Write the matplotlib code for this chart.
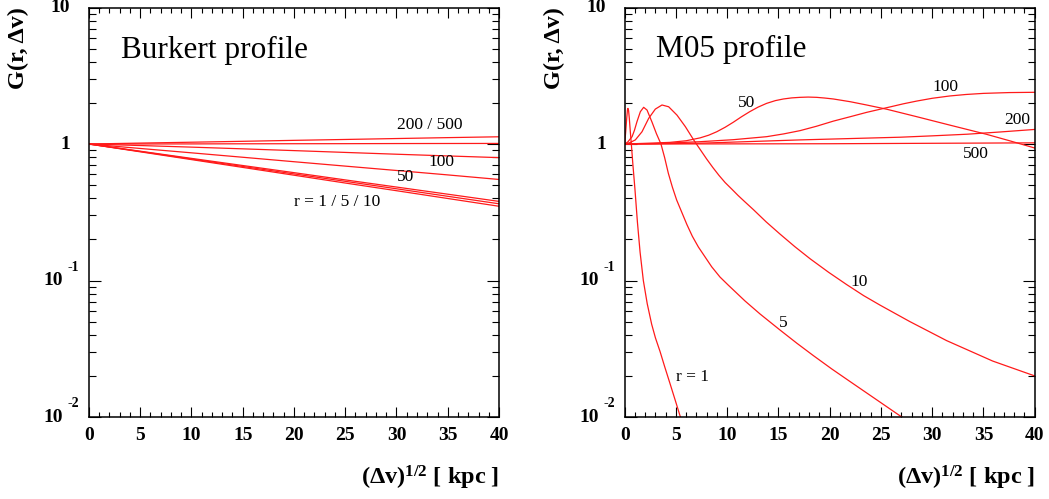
import matplotlib
matplotlib.use('Agg')
import matplotlib.pyplot as plt
import matplotlib.transforms as mtransforms
from matplotlib.ticker import MultipleLocator, LogLocator, FixedLocator, NullFormatter

plt.rcParams['font.family'] = ['Liberation Serif', 'DejaVu Serif']
plt.rcParams['mathtext.fontset'] = 'custom'
plt.rcParams['mathtext.rm'] = 'Liberation Serif'
plt.rcParams['mathtext.bf'] = 'Liberation Serif:bold'
plt.rcParams['mathtext.it'] = 'Liberation Serif:italic'

# ---- Burkert profile (left) ----
bur_x = [0, 5, 10, 15, 20, 25, 30, 35, 40]
bur_r1 = [1.0, 0.877, 0.769, 0.674, 0.591, 0.518, 0.455, 0.399, 0.350]
bur_r5 = [1.0, 0.882, 0.777, 0.685, 0.604, 0.533, 0.470, 0.414, 0.365]
bur_r10 = [1.0, 0.886, 0.785, 0.696, 0.617, 0.546, 0.484, 0.429, 0.380]
bur_r50 = [1.0, 0.928, 0.862, 0.800, 0.742, 0.689, 0.640, 0.594, 0.550]
bur_r100 = [1.0, 0.975, 0.949, 0.922, 0.895, 0.868, 0.842, 0.818, 0.795]
bur_r200 = [1.0, 1.001, 1.002, 1.004, 1.005, 1.006, 1.008, 1.009, 1.010]
bur_r500 = [1.0, 1.016, 1.031, 1.047, 1.064, 1.080, 1.097, 1.114, 1.130]

# ---- M05 profile (right) ----
m05_x1 = [0, 0.1, 0.2, 0.27, 0.32, 0.38, 0.45, 0.55, 0.65, 0.8, 1.0, 1.24,
          1.5, 1.82, 2.2, 2.63, 3.0, 3.45, 3.9, 4.4, 4.9, 5.4, 5.7]
m05_r1 = [1.0, 1.23, 1.55, 1.778, 1.824, 1.758, 1.55, 1.23, 1.0, 0.708, 0.468,
          0.269, 0.162, 0.100, 0.0676, 0.0479, 0.0380, 0.0302, 0.0234, 0.0178,
          0.0135, 0.0102, 0.0087]

m05_x5 = [0, 0.3, 0.72, 0.95, 1.2, 1.53, 1.85, 2.18, 2.67, 3.1, 3.54, 3.9,
          4.26, 4.65, 5.07, 6.07, 6.6, 7.19, 8.49, 9.3, 10.12, 11.74, 13.2,
          15.15, 16.8, 18.4, 20.2, 21.98, 24.5, 26.86, 27.5]
m05_r5 = [1.0, 1.035, 1.132, 1.259, 1.459, 1.726, 1.858, 1.774, 1.445, 1.189,
          1.0, 0.794, 0.610, 0.484, 0.389, 0.257, 0.211, 0.176, 0.126, 0.106,
          0.0923, 0.0708, 0.0569, 0.0434, 0.0347, 0.0282, 0.0225, 0.0182,
          0.0135, 0.0102, 0.00955]

m05_x10 = [0, 0.5, 1.04, 1.69, 2.34, 2.99, 3.64, 4.29, 5.1, 5.92, 6.73, 7.0,
           7.5, 8.0, 8.6, 9.2, 9.8, 10.44, 11.06, 11.68, 12.55, 13.8, 15.15,
           16.6, 18.08, 19.9, 21.66, 23.3, 24.9, 27.8, 31.4, 35.9, 40]
m05_r10 = [1.0, 1.023, 1.072, 1.230, 1.542, 1.803, 1.932, 1.875, 1.629, 1.340,
           1.072, 1.0, 0.881, 0.776, 0.673, 0.589, 0.522, 0.468, 0.420, 0.380,
           0.331, 0.269, 0.219, 0.177, 0.1445, 0.1148, 0.0933, 0.0776, 0.0661,
           0.0501, 0.0363, 0.0257, 0.0200]

m05_x50 = [0, 2, 4.4, 6, 7.35, 8.2, 8.98, 9.8, 10.6, 11.4, 12.2, 13.0, 13.85,
           14.7, 15.48, 16.3, 17.1, 17.9, 18.73, 19.5, 20.36, 22.0, 23.6,
           25.56, 28.5, 31.7, 35.3, 37.5, 40]
m05_r50 = [1.0, 1.012, 1.028, 1.057, 1.109, 1.161, 1.230, 1.327, 1.445, 1.585,
           1.726, 1.862, 1.986, 2.080, 2.138, 2.178, 2.198, 2.208, 2.198, 2.173,
           2.138, 2.042, 1.932, 1.799, 1.585, 1.377, 1.178, 1.059, 0.935]

m05_x100 = [0, 3, 7.35, 10.6, 13.85, 15.5, 17.1, 18.7, 20.36, 22.0, 23.6,
            25.9, 27.2, 28.5, 30.0, 31.7, 33.3, 35.0, 37.5, 40]
m05_r100 = [1.0, 1.007, 1.040, 1.076, 1.132, 1.186, 1.253, 1.349, 1.472, 1.585,
            1.706, 1.871, 1.972, 2.065, 2.163, 2.249, 2.307, 2.350, 2.382, 2.393]

m05_x200 = [0, 7.35, 17.1, 26.9, 30, 33.4, 36.6, 40]
m05_r200 = [1.0, 1.014, 1.072, 1.122, 1.148, 1.180, 1.225, 1.279]

m05_x500 = [0, 20, 40]
m05_r500 = [1.0, 1.005, 1.02]

ylab_vals = [0.01, 0.1, 1, 10]
ylab_base = ['10', '10', '1', '10']
ylab_exp = ['-2', '-1', '', '']

fig = plt.figure(figsize=(10.49, 4.99), dpi=100)
ax1 = fig.add_axes([0.0848, 0.1643, 0.3909, 0.8206])
ax2 = fig.add_axes([0.5955, 0.1643, 0.3909, 0.8206])


def style(ax):
    ax.set_yscale('log')
    ax.set_xlim(0, 40)
    ax.set_ylim(0.01, 10)
    ax.xaxis.set_major_locator(MultipleLocator(5))
    ax.xaxis.set_minor_locator(MultipleLocator(1))
    ax.yaxis.set_major_locator(FixedLocator(ylab_vals))
    ax.yaxis.set_minor_locator(LogLocator(base=10, subs=range(2, 10)))
    ax.yaxis.set_major_formatter(NullFormatter())
    ax.yaxis.set_minor_formatter(NullFormatter())
    ax.tick_params(axis='both', which='both', direction='in',
                   top=True, right=True, width=0.8, color='black')
    ax.tick_params(axis='x', which='major', length=7.5, pad=7)
    ax.tick_params(axis='x', which='minor', length=3.8)
    ax.tick_params(axis='y', which='major', length=8.5)
    ax.tick_params(axis='y', which='minor', length=4.8)
    for lab in ax.get_xticklabels():
        lab.set_fontweight('bold')
        lab.set_fontsize(14)
    for sp in ax.spines.values():
        sp.set_linewidth(1.1)

    tr = mtransforms.blended_transform_factory(ax.transAxes, ax.transData)
    for v, b, e in zip(ylab_vals, ylab_base, ylab_exp):
        if e:
            ax.text(-0.063, v, b, transform=tr, ha='right', va='center',
                    fontsize=14, fontweight='bold', clip_on=False)
            ax.text(-0.052, v * 1.25, e, transform=tr, ha='left', va='center',
                    fontsize=10, fontweight='bold', clip_on=False)
        else:
            ax.text(-0.046, v, b, transform=tr, ha='right', va='center',
                    fontsize=14, fontweight='bold', clip_on=False)

    ax.set_ylabel('G(r, Δv)', fontsize=17.5, fontweight='bold', loc='top')
    ax.yaxis.set_label_coords(-0.146, 1.0)
    ax.set_xlabel('(Δv)$^{\\mathbf{1/2}}$ [ kpc ]', fontsize=17.5,
                  fontweight='bold', loc='right')
    ax.xaxis.set_label_coords(1.0, -0.114)


lc = '#ff1a1a'
lw = 0.9

for ys in [bur_r1, bur_r5, bur_r10, bur_r50, bur_r100, bur_r200, bur_r500]:
    ax1.plot(bur_x, ys, color=lc, lw=lw)
style(ax1)
ax1.text(3.12, 4.88, 'Burkert profile', fontsize=22.5, va='center')
ax1.text(30.05, 1.38, '200 / 500', fontsize=12.5, va='center')
ax1.text(33.07, 0.738, '100', fontsize=12.5, va='center')
ax1.text(30.05, 0.573, '50', fontsize=12.5, va='center')
ax1.text(20.0, 0.376, 'r = 1 / 5 / 10', fontsize=12.5, va='center')

for xs, ys in [(m05_x1, m05_r1), (m05_x5, m05_r5), (m05_x10, m05_r10),
               (m05_x50, m05_r50), (m05_x100, m05_r100),
               (m05_x200, m05_r200), (m05_x500, m05_r500)]:
    ax2.plot(xs, ys, color=lc, lw=lw)
style(ax2)
ax2.text(3.06, 4.9, 'M05 profile', fontsize=22.5, va='center')
ax2.text(11.0, 1.99, '50', fontsize=12.5, va='center')
ax2.text(30.07, 2.63, '100', fontsize=12.5, va='center')
ax2.text(37.04, 1.5, '200', fontsize=12.5, va='center')
ax2.text(33.0, 0.845, '500', fontsize=12.5, va='center')
ax2.text(22.0, 0.098, '10', fontsize=12.5, va='center')
ax2.text(15.0, 0.049, '5', fontsize=12.5, va='center')
ax2.text(5.01, 0.0196, 'r = 1', fontsize=12.5, va='center')

fig.savefig('out.png', dpi=100)
